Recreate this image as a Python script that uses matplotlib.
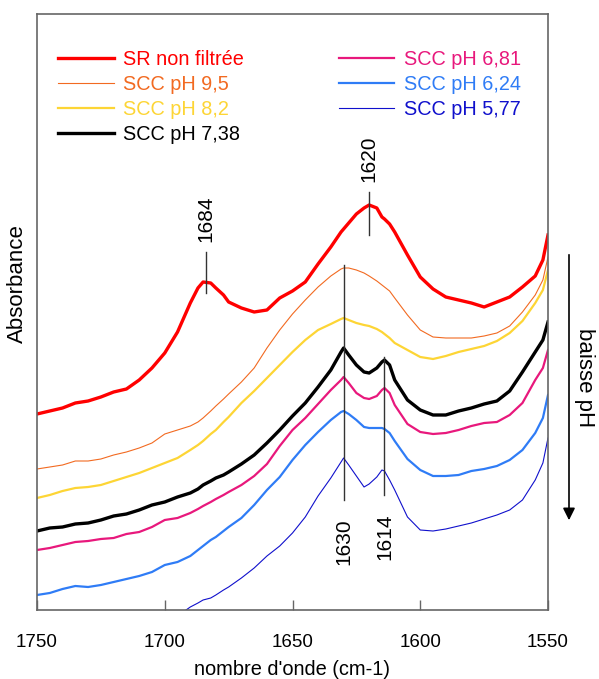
import numpy as np
import matplotlib.pyplot as plt

plt.rcParams['font.family'] = ['Liberation Sans', 'DejaVu Sans']

# nombre d'onde (cm-1)
wn = [1750, 1745, 1740, 1735, 1730, 1725, 1720, 1715, 1710, 1705, 1700, 1695, 1690,
      1687, 1685, 1682, 1680, 1677, 1675, 1670, 1665, 1660, 1655, 1650, 1645, 1640,
      1635, 1631, 1630, 1628, 1625, 1622, 1620, 1617, 1615, 1614, 1612, 1610, 1605,
      1600, 1595, 1590, 1585, 1580, 1575, 1570, 1565, 1560, 1555, 1552, 1550]

# absorbance (u.a., courbes décalées)
sr_non_filtree = [196, 199, 202, 207, 209, 213, 218, 221, 230, 242, 257, 278, 307,
                  322, 328, 327, 322, 315, 308, 302, 298, 300, 312, 319, 328, 346,
                  363, 378, 381, 387, 396, 402, 405, 402, 393, 391, 386, 378, 355,
                  333, 321, 313, 310, 307, 303, 308, 313, 323, 334, 350, 375]
scc_9_5 = [141, 143, 145, 149, 149, 151, 155, 158, 162, 167, 176, 180, 184,
           188, 192, 199, 204, 211, 216, 228, 242, 262, 280, 296, 310, 323,
           334, 341, 342, 342, 340, 337, 334, 329, 325, 323, 319, 312, 295,
           280, 273, 272, 272, 272, 274, 277, 284, 298, 315, 330, 353]
scc_8_2 = [112, 115, 119, 122, 123, 125, 129, 133, 137, 142, 147, 152, 160,
           165, 169, 176, 180, 188, 193, 207, 219, 232, 245, 258, 270, 280,
           286, 291, 292, 290, 287, 285, 284, 281, 278, 276, 272, 267, 260,
           253, 251, 254, 258, 261, 264, 269, 277, 289, 307, 320, 340]
scc_7_38 = [79, 82, 83, 86, 87, 90, 94, 96, 100, 105, 108, 113, 117,
            121, 125, 129, 132, 135, 138, 146, 155, 167, 180, 194, 207, 223,
            240, 258, 262, 255, 245, 238, 237, 242, 248, 250, 245, 230, 210,
            200, 195, 195, 199, 202, 206, 209, 219, 238, 258, 270, 288]
scc_6_81 = [60, 62, 65, 68, 69, 71, 72, 76, 78, 83, 90, 92, 97,
            101, 104, 108, 111, 115, 118, 125, 134, 146, 164, 180, 192, 206,
            220, 230, 233, 227, 217, 212, 211, 214, 220, 222, 217, 205, 186,
            178, 176, 177, 180, 184, 187, 188, 195, 207, 230, 242, 260]
scc_6_24 = [15, 17, 21, 24, 23, 25, 28, 31, 34, 38, 45, 48, 54,
            60, 64, 70, 73, 79, 83, 92, 105, 120, 133, 150, 165, 178,
            190, 198, 199, 196, 190, 183, 182, 182, 182, 181, 177, 169, 151,
            140, 134, 134, 135, 139, 141, 144, 150, 160, 177, 192, 215]
scc_5_77 = [np.nan] * 11 + [-6, 3,
            7, 10, 12, 15, 20, 23, 32, 42, 54, 64, 77, 93, 114,
            132, 148, 152, 145, 134, 123, 126, 133, 140, 139, 130, 120, 93,
            80, 79, 81, 84, 87, 91, 95, 100, 110, 130, 147, 172]

labels = ['SR non filtrée', 'SCC pH 9,5', 'SCC pH 8,2', 'SCC pH 7,38',
          'SCC pH 6,81', 'SCC pH 6,24', 'SCC pH 5,77']
colors = ['#ff0000', '#f26a21', '#fdd535', '#000000', '#e8187c', '#2f7cf6', '#1010cc']
widths = [2.4, 0.8, 1.6, 2.4, 1.6, 1.6, 0.8]
series = [sr_non_filtree, scc_9_5, scc_8_2, scc_7_38, scc_6_81, scc_6_24, scc_5_77]

# bandes annotées: (position, y bas du trait, y haut du trait, texte au-dessus ?)
bands = [(1684, 317, 358, True), (1620, 375, 418, True),
         (1630, 110, 345, False), (1614, 115, 253, False)]

fig = plt.figure(figsize=(5.99, 6.79), dpi=100)
ax = fig.add_axes([37 / 599, 69 / 679, 511 / 599, 596 / 679])

for y, lab, c, lw in zip(series, labels, colors, widths):
    ax.plot(wn, y, color=c, lw=lw, label=lab)

for pos, y0, y1, above in bands:
    ax.plot([pos, pos], [y0, y1], color='#333333', lw=1.0)
    if above:
        ax.text(pos, y1 + 10, str(pos), rotation=90, ha='center', va='bottom', fontsize=15)
    else:
        ax.text(pos, y0 - 18, str(pos), rotation=90, ha='center', va='top', fontsize=15)

ax.set_xlim(1750, 1550)
ax.set_ylim(0, 596)
ax.set_xticks([1750, 1700, 1650, 1600, 1550])
ax.set_yticks([])
ax.tick_params(axis='x', direction='in', length=7, width=1, colors='#666666',
               labelcolor='black', labelsize=13.5, pad=17)
for s in ax.spines.values():
    s.set_color('#666666')
    s.set_linewidth(1.2)

ax.set_xlabel("nombre d'onde (cm-1)", fontsize=14.4, labelpad=7)
ax.set_ylabel('Absorbance', fontsize=16)
ax.yaxis.set_label_coords(-0.018, 0.547)

ax.legend(ncol=2, loc='upper left', bbox_to_anchor=(0.041, 0.939), frameon=False,
          borderaxespad=0, borderpad=0, handlelength=2.8, handletextpad=0.5,
          columnspacing=4.75, labelspacing=0.3, fontsize=14.3, labelcolor='linecolor')

ax.annotate('', xy=(569 / 599, 1 - 523 / 679), xytext=(569 / 599, 1 - 252 / 679),
            xycoords='figure fraction', textcoords='figure fraction',
            arrowprops=dict(arrowstyle='-|>', color='black', lw=1.2, mutation_scale=18))
fig.text(584 / 599, 1 - 378 / 679, 'baisse pH', rotation=270, ha='center', va='center',
         fontsize=16)

fig.savefig('out.png', dpi=100)
